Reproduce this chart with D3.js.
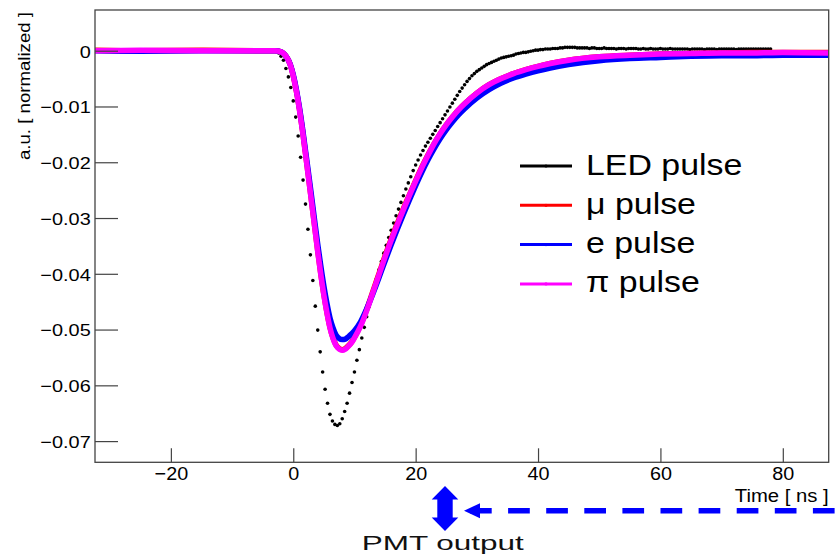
<!DOCTYPE html>
<html>
<head>
<meta charset="utf-8">
<script src="https://cdn.jsdelivr.net/npm/d3@7"></script>
<style>
body { margin: 0; background: #fff; }
svg { display: block; font-family: "Liberation Sans", Arial, sans-serif; }
</style>
</head>
<body>
<div id="chart"></div>
<script>
// LED pulse, sampled every 0.4 ns starting at -32.4 ns
var ledStart = -32.4
var ledStep = 0.4
var ledVals = [
  0, 0, 0, 0, 0, 0, 0, 0, 0, 0,
  0, 0, 0, 0, 0, 0, 0, 0, 0, 0,
  0, 0, 0, 0, 0, 0, 0, 0, 0, 0,
  0, 0, 0, 0, 0, 0, 0, 0, 0, 0,
  0, 0, 0, 0, 0, 0, 0, 0, 0, 0,
  0, 0, 0, 0, 0, 0, 0, 0, 0, 0,
  0, 0, 0, 0, 0, 0, 0, 0, 0, 0,
  0, 0, 0, 0, -0.0001, -0.0004, -0.0010, -0.0017, -0.0032, -0.0047,
  -0.0066, -0.0090, -0.0119, -0.0153, -0.0191, -0.0232, -0.0275, -0.0320, -0.0366, -0.0412,
  -0.0458, -0.0501, -0.0540, -0.0576, -0.0607, -0.0632, -0.0652, -0.0664, -0.0670, -0.0672,
  -0.0669, -0.0660, -0.0647, -0.0632, -0.0614, -0.0595, -0.0576, -0.0555, -0.0536, -0.0515,
  -0.0496, -0.0477, -0.0459, -0.0442, -0.0425, -0.0409, -0.0393, -0.0378, -0.0363, -0.0349,
  -0.0335, -0.0322, -0.0309, -0.0296, -0.0284, -0.0272, -0.0260, -0.0248, -0.0237, -0.0226,
  -0.0215, -0.0205, -0.0196, -0.0187, -0.0179, -0.0171, -0.0164, -0.0157, -0.0150, -0.0143,
  -0.0136, -0.0129, -0.0122, -0.0115, -0.0108, -0.0101, -0.0094, -0.0087, -0.0080, -0.0073,
  -0.0067, -0.0061, -0.0055, -0.0050, -0.0045, -0.0041, -0.0037, -0.0034, -0.0031, -0.0028,
  -0.0025, -0.0023, -0.0021, -0.0019, -0.0017, -0.0015, -0.0013, -0.0012, -0.0011, -0.0010,
  -0.0009, -0.0008, -0.0006, -0.0005, -0.0004, -0.0003, -0.0003, -0.0002, -0.0001, 0.0000,
  0.0001, 0.0001, 0.0002, 0.0002, 0.0003, 0.0003, 0.0003, 0.0004, 0.0004, 0.0004,
  0.0005, 0.0005, 0.0006, 0.0006, 0.0006, 0.0006, 0.0006, 0.0005, 0.0005, 0.0005,
  0.0005, 0.0005, 0.0004, 0.0005, 0.0005, 0.0004, 0.0004, 0.0004, 0.0005, 0.0004,
  0.0004, 0.0004, 0.0004, 0.0003, 0.0004, 0.0004, 0.0004, 0.0003, 0.0004, 0.0004,
  0.0004, 0.0004, 0.0003, 0.0003, 0.0004, 0.0003, 0.0003, 0.0004, 0.0003, 0.0003,
  0.0003, 0.0004, 0.0003, 0.0003, 0.0003, 0.0004, 0.0003, 0.0003, 0.0003, 0.0003,
  0.0003, 0.0003, 0.0003, 0.0002, 0.0003, 0.0003, 0.0003, 0.0003, 0.0003, 0.0002,
  0.0003, 0.0003, 0.0003, 0.0003, 0.0002, 0.0003, 0.0003, 0.0003, 0.0003, 0.0003,
  0.0003, 0.0003, 0.0002, 0.0003, 0.0003, 0.0003, 0.0003, 0.0003, 0.0003, 0.0003,
  0.0003, 0.0003, 0.0003, 0.0003, 0.0003, 0.0003, 0.0003
]

// particle pulses (ns, normalized)
var pulseTime = [
  -32.4, -25, -15, -5, -3, -2, -1.5, -1, -0.5, 0,
  0.5, 1, 1.5, 2, 2.5, 3, 3.5, 4, 4.5, 5,
  5.5, 6, 6.5, 7, 7.5, 8, 8.5, 9, 9.5, 10,
  11, 12, 13, 14, 15, 16, 17, 18, 19, 20,
  21, 22, 23, 24, 25, 26, 27, 28, 30, 32,
  34, 36, 38, 40, 42, 45, 50, 55, 60, 65,
  70, 75, 80, 87.5
]
var muVals = [
  0.0001, 0.0000, 0.0001, 0.0000, 0.0000, -0.0002, -0.0006, -0.0013, -0.0025, -0.0045,
  -0.0072, -0.0104, -0.0142, -0.0184, -0.0227, -0.0271, -0.0315, -0.0359, -0.0400, -0.0437,
  -0.0469, -0.0496, -0.0515, -0.0528, -0.0534, -0.0536, -0.0534, -0.0529, -0.0523, -0.0514,
  -0.0492, -0.0464, -0.0432, -0.0400, -0.0368, -0.0338, -0.0310, -0.0283, -0.0258, -0.0233,
  -0.0209, -0.0187, -0.0167, -0.0149, -0.0133, -0.0119, -0.0106, -0.0095, -0.0076, -0.0061,
  -0.0050, -0.0041, -0.0034, -0.0028, -0.0023, -0.0017, -0.0011, -0.0008, -0.0006, -0.0005,
  -0.0004, -0.0003, -0.0003, -0.0003
]
var eVals = [
  0.0000, -0.0001, 0.0000, 0.0000, 0.0000, -0.0002, -0.0006, -0.0013, -0.0024, -0.0043,
  -0.0069, -0.0101, -0.0138, -0.0179, -0.0220, -0.0262, -0.0305, -0.0347, -0.0386, -0.0422,
  -0.0453, -0.0479, -0.0497, -0.0510, -0.0516, -0.0518, -0.0517, -0.0513, -0.0508, -0.0502,
  -0.0486, -0.0463, -0.0436, -0.0407, -0.0377, -0.0348, -0.0320, -0.0293, -0.0267, -0.0242,
  -0.0218, -0.0196, -0.0176, -0.0158, -0.0142, -0.0128, -0.0115, -0.0104, -0.0085, -0.0070,
  -0.0058, -0.0049, -0.0042, -0.0036, -0.0031, -0.0025, -0.0018, -0.0014, -0.0012, -0.0010,
  -0.0009, -0.0009, -0.0008, -0.0008
]
var piVals = [
  0.0000, 0.0001, 0.0000, 0.0000, 0.0000, -0.0002, -0.0006, -0.0013, -0.0025, -0.0045,
  -0.0072, -0.0105, -0.0143, -0.0185, -0.0228, -0.0272, -0.0316, -0.0360, -0.0401, -0.0438,
  -0.0470, -0.0497, -0.0516, -0.0529, -0.0535, -0.0537, -0.0535, -0.0530, -0.0524, -0.0515,
  -0.0494, -0.0466, -0.0434, -0.0402, -0.0370, -0.0340, -0.0312, -0.0285, -0.0259, -0.0234,
  -0.0210, -0.0188, -0.0167, -0.0149, -0.0133, -0.0119, -0.0106, -0.0095, -0.0076, -0.0061,
  -0.0050, -0.0041, -0.0034, -0.0028, -0.0023, -0.0017, -0.0011, -0.0008, -0.0006, -0.0005,
  -0.0004, -0.0004, -0.0003, -0.0004
]

var legendLabels = ['LED pulse', 'μ pulse', 'e pulse', 'π pulse']
var legendColors = ['#000000', '#ff0000', '#0000ff', '#ff00ff']

var xDomain = [-32.4, 87.5]
var yDomain = [-0.0738, 0.0073]
var xTicks = [-20, 0, 20, 40, 60, 80]
var xTickLabels = ['\u221220', '0', '20', '40', '60', '80']
var yTicks = [0, -0.01, -0.02, -0.03, -0.04, -0.05, -0.06, -0.07]
var yTickLabels = ['0', '\u22120.01', '\u22120.02', '\u22120.03', '\u22120.04', '\u22120.05', '\u22120.06', '\u22120.07']

var W = 840, H = 555
var margin = {left: 95, right: 11.3, top: 10, bottom: 92.7}
var axisColor = '#444'

var svg = d3.select('#chart').append('svg').attr('width', W).attr('height', H)

var x = d3.scaleLinear().domain(xDomain).range([margin.left, W - margin.right])
var y = d3.scaleLinear().domain(yDomain).range([H - margin.bottom, margin.top])

// text with a slight horizontal stretch, like the original rendering
function stext(parent, str, o) {
  var tr = 'translate(' + o.x + ',' + o.y + ')'
  if (o.rotate) tr += ' rotate(' + o.rotate + ')'
  tr += ' scale(' + (o.sx || 1) + ',1)'
  return parent.append('text')
    .attr('transform', tr)
    .attr('text-anchor', o.anchor || 'start')
    .attr('fill', o.fill || '#000')
    .style('font-size', o.size + 'px')
    .text(str)
}

////////////
// Curves //
////////////
svg.append('clipPath').attr('id', 'plotclip')
  .append('rect')
  .attr('x', margin.left).attr('y', margin.top)
  .attr('width', W - margin.left - margin.right)
  .attr('height', H - margin.top - margin.bottom)

var plot = svg.append('g').attr('clip-path', 'url(#plotclip)')

var ledData = ledVals.map(function(v, i) { return {t: ledStart + i * ledStep, v: v} })

plot.append('g').selectAll('circle')
  .data(ledData)
  .enter().append('circle')
  .attr('cx', function(d) { return x(d.t) })
  .attr('cy', function(d) { return y(d.v) })
  .attr('r', 1.8)
  .attr('fill', legendColors[0])

var line = d3.line()
  .x(function(d) { return x(d.t) })
  .y(function(d) { return y(d.v) })
  .curve(d3.curveMonotoneX)

var series = [muVals, eVals, piVals]
series.forEach(function(vals, k) {
  var pts = vals.map(function(v, i) { return {t: pulseTime[i], v: v} })
  plot.append('path')
    .attr('d', line(pts))
    .attr('fill', 'none')
    .attr('stroke', legendColors[k + 1])
    .attr('stroke-width', 5.5)
    .attr('stroke-linejoin', 'round')
})

//////////
// Axes //
//////////
var gy = svg.append('g').attr('transform', 'translate(' + margin.left + ',0)')
gy.call(d3.axisLeft(y).tickValues(d3.range(0.006, -0.0735, -0.002)).tickSize(-12).tickSizeOuter(0).tickFormat(''))
gy.call(d3.axisLeft(y).tickValues(yTicks).tickSize(-23).tickSizeOuter(0)
  .tickFormat(function(d, i) { return yTickLabels[i] }))

var gx = svg.append('g').attr('transform', 'translate(0,' + (H - margin.bottom) + ')')
gx.call(d3.axisBottom(x).tickValues(d3.range(-30, 87, 5)).tickSize(-7).tickSizeOuter(0).tickFormat(''))
gx.call(d3.axisBottom(x).tickValues(xTicks).tickSize(-14).tickSizeOuter(0)
  .tickFormat(function(d, i) { return xTickLabels[i] }))

;[gx, gy].forEach(function(g) {
  g.attr('font-family', null).attr('font-size', null).style('color', axisColor)
  g.selectAll('.domain').remove()
  g.selectAll('.tick line').attr('stroke-width', 1.2)
})

gy.selectAll('.tick text')
  .attr('x', null).attr('dy', null)
  .attr('fill', '#000')
  .attr('transform', 'translate(-4.3,6.4) scale(1.17,1)')
  .style('font-size', '17px')

gx.selectAll('.tick text')
  .attr('y', null).attr('dy', null)
  .attr('fill', '#000')
  .attr('transform', 'translate(0,18) scale(1.07,1)')
  .style('font-size', '18.5px')

svg.append('rect')
  .attr('x', margin.left).attr('y', margin.top)
  .attr('width', W - margin.left - margin.right)
  .attr('height', H - margin.top - margin.bottom)
  .attr('fill', 'none')
  .attr('stroke', axisColor)
  .attr('stroke-width', 1.3)

stext(svg, 'a.u. [ normalized ]', {x: 30, y: 12, rotate: -90, sx: 1.165, size: 16, anchor: 'end'})
stext(svg, 'Time [ ns ]', {x: 828.7, y: 501.5, sx: 1.08, size: 18.8, anchor: 'end'})

////////////
// Legend //
////////////
var legend = svg.append('g')
legendLabels.forEach(function(lab, i) {
  var ly = 166 + i * 39.3
  legend.append('line')
    .attr('x1', 520).attr('x2', 572)
    .attr('y1', ly).attr('y2', ly)
    .attr('stroke', legendColors[i])
    .attr('stroke-width', 3)
  legend.append('circle')
    .attr('cx', 546).attr('cy', ly).attr('r', 1.6)
    .attr('fill', legendColors[i])
  stext(legend, lab, {x: 586, y: ly + 8.5, sx: 1.13, size: 30})
})

////////////////////////
// PMT output marker  //
////////////////////////
var blue = '#0000ff'
var ann = svg.append('g').attr('fill', blue)
// double arrow
var cx = 445
ann.append('path').attr('d',
  'M' + cx + ',486 L' + (cx + 13.3) + ',499.5 L' + (cx + 7.7) + ',499.5 L' + (cx + 7.7) + ',517.5 L' + (cx + 13.3) + ',517.5' +
  ' L' + cx + ',531 L' + (cx - 13.3) + ',517.5 L' + (cx - 7.7) + ',517.5 L' + (cx - 7.7) + ',499.5 L' + (cx - 13.3) + ',499.5 Z')
// dashed arrow coming from the right
ann.append('path').attr('d', 'M464,510.7 L480,503.2 L480,518.2 Z')
ann.append('line')
  .attr('x1', 470).attr('x2', 840)
  .attr('y1', 510.7).attr('y2', 510.7)
  .attr('stroke', blue)
  .attr('stroke-width', 5.5)
  .attr('stroke-dasharray', '21.7,16.4')

stext(svg, 'PMT output', {x: 361.7, y: 550, sx: 1.5, size: 21, fill: '#111'})
</script>
</body>
</html>
